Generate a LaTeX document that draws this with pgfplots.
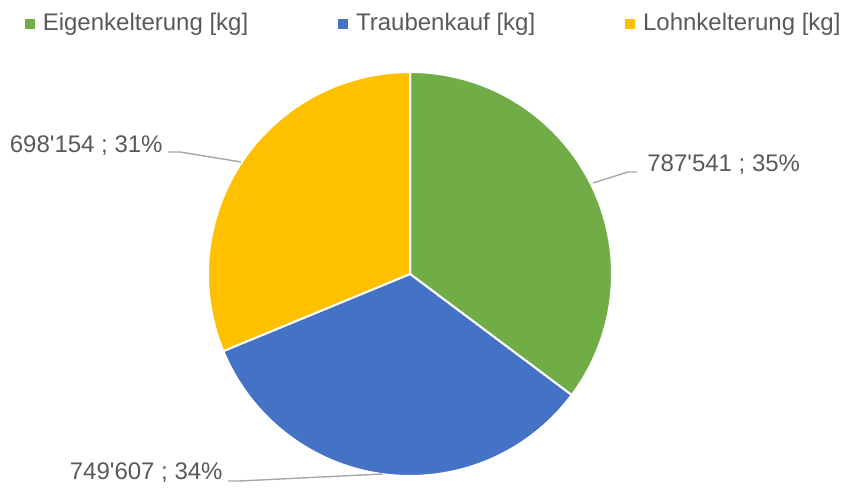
\documentclass[border=0pt]{standalone}
\usepackage{pgfplots}
\usepackage{pgfplotstable}
\pgfplotsset{compat=1.18}
\usepackage{fontspec}
\setmainfont{Liberation Sans}
\definecolor{cgreen}{HTML}{70AD47}
\definecolor{cblue}{HTML}{4472C4}
\definecolor{cyellow}{HTML}{FFC000}
\definecolor{tgray}{HTML}{595959}
\definecolor{lgray}{HTML}{A6A6A6}

\pgfplotstableread{
name value
Eigenkelterung 787541
Traubenkauf 749607
Lohnkelterung 698154
}\piedata

\begin{document}
\begin{tikzpicture}
\pgfplotstablegetelem{0}{value}\of\piedata\edef\va{\pgfplotsretval}
\pgfplotstablegetelem{1}{value}\of\piedata\edef\vb{\pgfplotsretval}
\pgfplotstablegetelem{2}{value}\of\piedata\edef\vc{\pgfplotsretval}
\edef\tot{\fpeval{\va+\vb+\vc}}
\edef\angA{\fpeval{round(90-360*\va/\tot,3)}}
\edef\angB{\fpeval{round(\angA-360*\vb/\tot,3)}}
\begin{axis}[
  scale only axis, width=421.5pt, height=243pt,
  xmin=0, xmax=843, ymin=0, ymax=486,
  hide axis, clip=false,
  legend columns=3,
  legend style={draw=none, fill=none, at={(axis cs:25,462.5)}, anchor=west,
    inner sep=0pt, outer sep=0pt,
    font=\fontsize{12}{14}\selectfont, text=tgray,
    nodes={inner xsep=0pt, inner ysep=1pt},
    /tikz/every odd column/.append style={column sep=4pt},
    /tikz/every even column/.append style={column sep=45pt}},
]
\path (axis cs:0,0) rectangle (axis cs:843,486);
\addlegendimage{legend image code/.code={\fill[cgreen] (0pt,-2.25pt) rectangle (4.5pt,2.25pt);}}
\addlegendentry{Eigenkelterung [kg]}
\addlegendimage{legend image code/.code={\fill[cblue] (0pt,-2.25pt) rectangle (4.5pt,2.25pt);}}
\addlegendentry{Traubenkauf [kg]}
\addlegendimage{legend image code/.code={\fill[cyellow] (0pt,-2.25pt) rectangle (4.5pt,2.25pt);}}
\addlegendentry{Lohnkelterung [kg]}

\fill[cgreen, draw=white, line width=1pt] (axis cs:410,212) -- ++(90:101pt) arc[start angle=90, end angle=\angA, radius=101pt] -- cycle;
\fill[cblue, draw=white, line width=1pt] (axis cs:410,212) -- ++(\angA:101pt) arc[start angle=\angA, end angle=\angB, radius=101pt] -- cycle;
\fill[cyellow, draw=white, line width=1pt] (axis cs:410,212) -- ++(\angB:101pt) arc[start angle=\angB, end angle=-270, radius=101pt] -- cycle;

\addplot[lgray, line width=0.7pt, no marks, forget plot] coordinates {(593,303) (628,314) (637,314)};
\addplot[lgray, line width=0.7pt, no marks, forget plot] coordinates {(168,334) (180,334) (241,324)};
\addplot[lgray, line width=0.7pt, no marks, forget plot] coordinates {(228,5) (240,5) (383,12)};

\node[anchor=base west, inner sep=0pt, text=tgray, font=\fontsize{12}{14}\selectfont] at (axis cs:647,314) {787\textquotesingle 541 ; 35\%};
\node[anchor=base east, inner sep=0pt, text=tgray, font=\fontsize{12}{14}\selectfont] at (axis cs:163,333) {698\textquotesingle 154 ; 31\%};
\node[anchor=base east, inner sep=0pt, text=tgray, font=\fontsize{12}{14}\selectfont] at (axis cs:223,6) {749\textquotesingle 607 ; 34\%};
\end{axis}
\end{tikzpicture}
\end{document}
